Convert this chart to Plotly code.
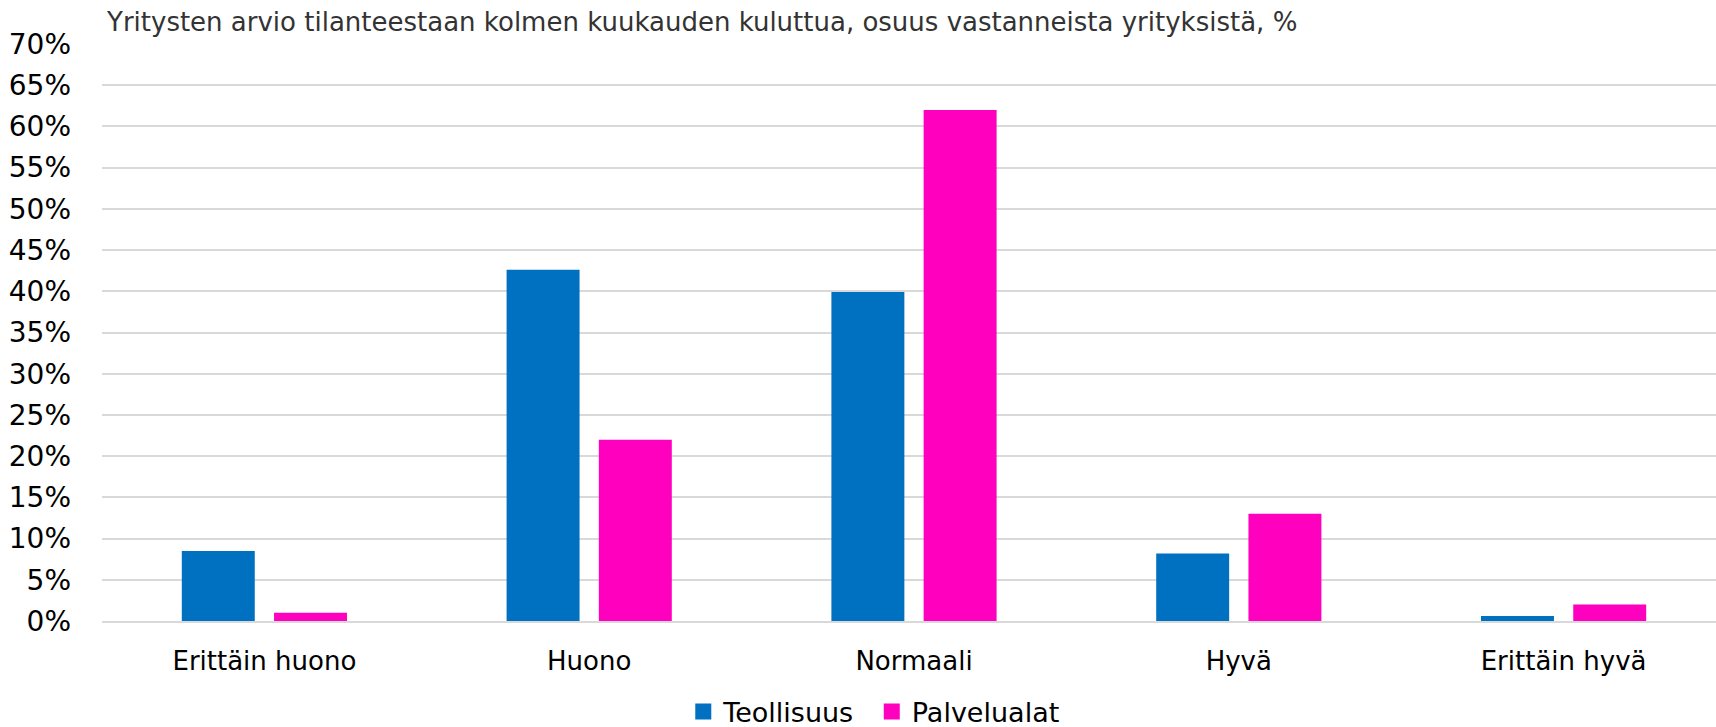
import plotly.graph_objects as go

categories = ["Erittäin huono", "Huono", "Normaali", "Hyvä", "Erittäin hyvä"]
teollisuus = [8.5, 42.6, 39.9, 8.2, 0.6]
palvelualat = [1.0, 22.0, 62.0, 13.0, 2.0]
series_names = ["Teollisuus", "Palvelualat"]
colors = ["#0070C0", "#FF00BF"]
title_text = "Yritysten arvio tilanteestaan kolmen kuukauden kuluttua, osuus vastanneista yrityksistä, %"

# the original chart's plot area runs slightly past the right edge of the image
W, H = 1726, 727
ml, mr, mt, mb = 102, 0, 44, 106

fig = go.Figure()
for name, vals, col in zip(series_names, [teollisuus, palvelualat], colors):
    fig.add_trace(go.Bar(x=categories, y=vals, name=name, marker_color=col,
                         marker_line_width=0, showlegend=False))
for name, col in zip(series_names, colors):
    fig.add_trace(go.Scatter(x=[None], y=[None], mode="markers", name=name,
                             marker=dict(symbol="square", size=16, color=col)))

fig.update_layout(
    width=W, height=H,
    margin=dict(l=ml, r=mr, t=mt, b=mb, autoexpand=False),
    plot_bgcolor="white", paper_bgcolor="white",
    barmode="group", bargap=0.432, bargroupgap=0.209,
    font=dict(family="DejaVu Sans", size=26, color="#000000"),
    title=dict(text=title_text, x=107 / W, xref="container", xanchor="left",
               y=1 - 22 / H, yref="container", yanchor="middle",
               font=dict(family="DejaVu Sans", size=26, color="#333333")),
    legend=dict(orientation="h", x=0.474, xanchor="center", y=1 - 712 / H,
                yref="container", yanchor="middle",
                font=dict(size=27), itemwidth=30, entrywidth=143.5,
                entrywidthmode="pixels", bgcolor="rgba(0,0,0,0)"),
)
fig.update_yaxes(range=[0, 70], dtick=5, ticksuffix="%", showgrid=True,
                 gridcolor="#D9D9D9", gridwidth=2, zeroline=False, showline=False,
                 ticks="", ticklabelstandoff=30, automargin=False,
                 tickfont=dict(size=28), fixedrange=True)
fig.update_xaxes(showgrid=False, showline=True, linecolor="#D9D9D9", linewidth=2,
                 ticks="", ticklabelstandoff=16, automargin=False, fixedrange=True)

fig.write_html("out.html", config={"displayModeBar": False},
               post_script="document.body.style.margin='0';document.body.style.overflow='hidden';")
